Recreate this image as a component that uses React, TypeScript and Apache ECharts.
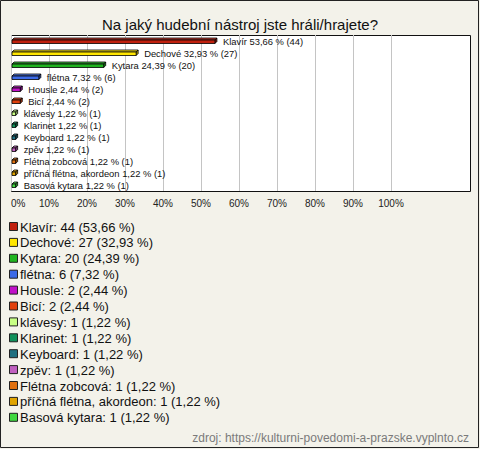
import React, { useEffect, useRef } from "react";
import * as echarts from "echarts";

const categories = [
  "Klavír",
  "Dechové",
  "Kytara",
  "flétna",
  "Housle",
  "Bicí",
  "klávesy",
  "Klarinet",
  "Keyboard",
  "zpěv",
  "Flétna zobcová",
  "příčná flétna, akordeon",
  "Basová kytara",
];
const counts = [44, 27, 20, 6, 2, 2, 1, 1, 1, 1, 1, 1, 1];
const percents = [53.66, 32.93, 24.39, 7.32, 2.44, 2.44, 1.22, 1.22, 1.22, 1.22, 1.22, 1.22, 1.22];
const colors = [
  "#c0200e",
  "#ffe600",
  "#1fb41f",
  "#3c6ae6",
  "#c010c8",
  "#e0400e",
  "#c8ff84",
  "#10905a",
  "#1e6f80",
  "#c060c0",
  "#e07010",
  "#e0a400",
  "#40d840",
];
const xTicks = [0, 10, 20, 30, 40, 50, 60, 70, 80, 90, 100];
const title = "Na jaký hudební nástroj jste hráli/hrajete?";
const source = "zdroj: https://kulturni-povedomi-a-prazske.vyplnto.cz";

const fmt = (v: number) => v.toFixed(2).replace(".", ",");

function shade(hex: string, f: number) {
  const n = parseInt(hex.slice(1), 16);
  let r = (n >> 16) & 255, g = (n >> 8) & 255, b = n & 255;
  const adj = (c: number) =>
    Math.max(0, Math.min(255, Math.round(f >= 0 ? c + (255 - c) * f : c * (1 + f))));
  r = adj(r); g = adj(g); b = adj(b);
  return "rgb(" + r + "," + g + "," + b + ")";
}

export default function App() {
  const ref = useRef<HTMLDivElement>(null);
  useEffect(() => {
    if (!ref.current) return;
    const chart = echarts.init(ref.current, null, { renderer: "svg" });
    const legendTop = 227;
    const legendStep = 15.9;
    const legendGraphics: any[] = [];
    categories.forEach((c, i) => {
      legendGraphics.push({
        type: "rect",
        shape: { x: 9.5, y: legendTop + i * legendStep - 4.5, width: 8, height: 8 },
        style: { fill: colors[i], stroke: "#222", lineWidth: 1 },
      });
      legendGraphics.push({
        type: "text",
        x: 20,
        y: legendTop + i * legendStep,
        style: {
          text: c + ": " + counts[i] + " (" + fmt(percents[i]) + " %)",
          font: "13px 'Liberation Sans', Arial, sans-serif",
          fill: "#111",
          verticalAlign: "middle",
        },
      });
    });
    chart.setOption({
      animation: false,
      backgroundColor: "#f3f2ea",
      title: {
        text: title,
        left: "center",
        top: 12,
        textStyle: {
          fontFamily: "'Liberation Sans', Arial, sans-serif",
          fontSize: 15,
          fontWeight: "normal",
          color: "#111",
        },
      },
      grid: { left: 11, top: 35, width: 380, height: 156 },
      xAxis: {
        type: "value",
        min: 0,
        max: 100,
        interval: 10,
        axisLine: { show: false },
        axisTick: { show: false },
        splitLine: { show: true, lineStyle: { color: "#c4c4c4", width: 1 } },
        axisLabel: {
          formatter: (v: number) => (xTicks.includes(v) ? v + "%" : ""),
          fontFamily: "'Liberation Sans', Arial, sans-serif",
          fontSize: 10,
          color: "#222",
          margin: 7,
          alignMinLabel: "left",
        },
      },
      yAxis: {
        type: "category",
        data: categories,
        inverse: true,
        show: false,
      },
      graphic: [
        {
          type: "rect",
          z: -10,
          shape: { x: 0.5, y: 0.5, width: 478, height: 447 },
          style: { fill: "none", stroke: "#222", lineWidth: 1 },
        },
        {
          type: "rect",
          z: -10,
          silent: true,
          shape: { x: 11.5, y: 35.5, width: 459, height: 156 },
          style: { fill: "#ffffff", stroke: "#111", lineWidth: 1 },
        },
        ...legendGraphics,
        {
          type: "text",
          right: 11,
          top: 432,
          style: {
            text: source,
            font: "12px 'Liberation Sans', Arial, sans-serif",
            fill: "#7a7a7a",
          },
        },
      ],
      series: [
        {
          type: "custom",
          data: percents.map((p, i) => [p, i]),
          encode: { x: 0, y: 1 },
          clip: false,
          renderItem: (params: any, api: any) => {
            const v = api.value(0);
            const idx = api.value(1);
            const s = api.coord([0, idx]);
            const e = api.coord([v, idx]);
            const x0 = s[0] + 1;
            const x1 = e[0];
            const c = s[1];
            const d = 2;
            const yTop = c - 1;
            const yBot = c + 2.5;
            const col = colors[idx];
            return {
              type: "group",
              children: [
                {
                  type: "polygon",
                  shape: { points: [[x0, yTop], [x0 + d, yTop - d], [x1 + d, yTop - d], [x1, yTop]] },
                  style: { fill: shade(col, 0.15), stroke: "#000", lineWidth: 0.8 },
                },
                {
                  type: "polygon",
                  shape: { points: [[x1, yTop], [x1 + d, yTop - d], [x1 + d, yBot - d], [x1, yBot]] },
                  style: { fill: shade(col, -0.3), stroke: "#000", lineWidth: 0.8 },
                },
                {
                  type: "rect",
                  shape: { x: x0, y: yTop, width: Math.max(0, x1 - x0), height: yBot - yTop },
                  style: { fill: col, stroke: "#000", lineWidth: 0.8 },
                },
                {
                  type: "text",
                  x: x1 + 8,
                  y: c,
                  style: {
                    text: categories[idx] + " " + fmt(percents[idx]) + " % (" + counts[idx] + ")",
                    font: "9.4px 'Liberation Sans', Arial, sans-serif",
                    fill: "#111",
                    verticalAlign: "middle",
                  },
                },
              ],
            };
          },
        },
      ],
    });
    return () => chart.dispose();
  }, []);
  return (
    <div
      ref={ref}
      style={{ position: "fixed", left: 0, top: 0, width: 480, height: 449 }}
    />
  );
}
